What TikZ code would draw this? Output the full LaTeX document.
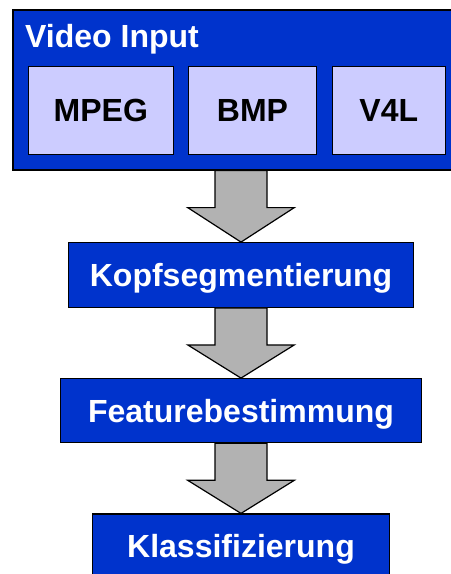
\documentclass[tikz,border=0pt]{standalone}
\usepackage{fontspec}
\setmainfont{Liberation Sans}
\usetikzlibrary{calc}
\definecolor{boxblue}{HTML}{0033CC}
\definecolor{lav}{HTML}{CCCCFF}
\definecolor{arrgray}{HTML}{B2B2B2}
\tikzset{
  bigfont/.style={font=\bfseries\fontsize{32bp}{38bp}\selectfont},
  bluebox/.style={draw=black, line width=1.2bp, fill=boxblue, rectangle, inner sep=0pt, text=white,
    bigfont, text height=22.6bp, text depth=0bp},
  lavbox/.style={draw=black, line width=1.2bp, fill=lav, rectangle, inner sep=0pt, text=black,
    minimum height=87.6bp, bigfont, text height=22.6bp, text depth=0bp},
  blockarrow/.style={draw=black, line width=1.2bp, fill=arrgray, line join=miter},
}
\begin{document}
\begin{tikzpicture}[x=1bp,y=-1bp]
\useasboundingbox (0,0) rectangle (451,574);
\clip (0,0) rectangle (451,574);
% outer video input box
\node[bluebox, minimum width=450bp, minimum height=160bp] (vi) at (238,90) {};
\node[anchor=base west, text=white, inner sep=0pt, bigfont] (vit) at (25,47.3) {Video Input};
\node[lavbox, minimum width=145bp] (mpeg) at (100.8,110.5) {MPEG};
\node[lavbox, minimum width=128.4bp] (bmp) at (252.5,110.5) {BMP};
\node[lavbox, minimum width=113bp] (v4l) at (388.8,110.5) {V4L};
% process boxes
\node[bluebox, minimum width=344.6bp, minimum height=64.6bp] (kopf) at (241,275) {Kopfsegmentierung};
\node[bluebox, minimum width=361bp, minimum height=64bp] (feat) at (241,410.7) {Featurebestimmung};
\node[bluebox, minimum width=297bp, minimum height=72bp, text depth=8bp] (klass) at (241,550) {Klassifizierung};
% block arrows
\foreach \a/\b in {vi/kopf, kopf/feat, feat/klass}{
  \coordinate (s) at (\b.north |- \a.south);
  \draw[blockarrow] ($(s)+(-26,0)$) -- ($(s)+(-26,37)$) -- ($(s)+(-53.3,37)$) -- (\b.north)
     -- ($(s)+(53.3,37)$) -- ($(s)+(26,37)$) -- ($(s)+(26,0)$) -- cycle;
}
\end{tikzpicture}
\end{document}
